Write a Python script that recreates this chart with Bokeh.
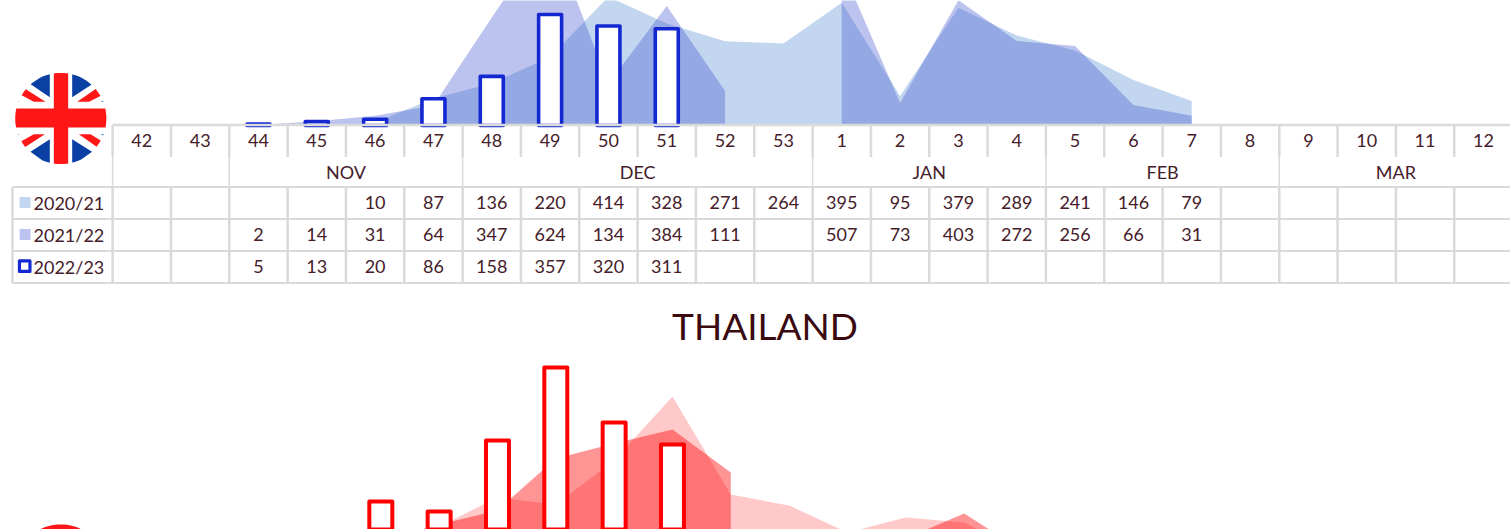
import numpy as np
from bokeh.plotting import figure
from bokeh.models import Range1d
from bokeh.core.properties import value
from bokeh.embed import file_html
from bokeh.resources import INLINE

# ---------- data ----------
weeks = [42,43,44,45,46,47,48,49,50,51,52,53,1,2,3,4,5,6,7,8,9,10,11,12]
months = ["NOV","DEC","JAN","FEB","MAR"]
month_spans = [(2,5),(6,11),(12,15),(16,19),(20,23)]
seasons = ["2020/21","2021/22","2022/23"]
uk_2020 = [None,None,None,None,10,87,136,220,414,328,271,264,395,95,379,289,241,146,79,None,None,None,None,None]
uk_2021 = [None,None,2,14,31,64,347,624,134,384,111,None,507,73,403,272,256,66,31,None,None,None,None,None]
uk_2022 = [None,None,5,13,20,86,158,357,320,311,None,None,None,None,None,None,None,None,None,None,None,None,None,None]
# Thailand: the value table is outside the picture, so these are estimates from the marks
th_2020 = [None,None,None,None,50,102,160,146,234,362,166,144,90,120,110,54,None,None,None,None,None,None,None,None]
th_2021 = [None,None,None,None,74,106,134,238,268,296,210,None,40,78,128,54,None,None,None,None,None,None,None,None]
th_2022 = [None,None,None,None,152,132,274,420,310,266,None,None,None,None,None,None,None,None,None,None,None,None,None,None]

# ---------- layout ----------
W, H = 1510, 529
SLOT, X0 = 58.33, 141.3
TH_DX = 5.7
UK_BASE, UK_PX = 125.0, 0.311
TH_BASE, TH_PX = 577.0, 0.5
FONT = value("Lato")
INK = "#45202a"
INK_TITLE = "#3a0a10"
GRID = "#dadada"
UK_C = ["#c2d6f0", "#4258d0", "#1428d2"]
TH_C = ["#ff0000", "#ff0000", "#ff0000"]

p = figure(width=W, height=H, output_backend="svg", toolbar_location=None,
           x_range=Range1d(-X0/SLOT, (W-X0)/SLOT), y_range=Range1d(H, 0),
           x_axis_type=None, y_axis_type=None, min_border=0, outline_line_color=None)
p.grid.visible = False
p.background_fill_color = "white"
p.extra_y_ranges = {
    "uk": Range1d((UK_BASE-H)/UK_PX, UK_BASE/UK_PX),
    "th": Range1d((TH_BASE-H)/TH_PX, TH_BASE/TH_PX),
}
p.extra_x_ranges = {"th": Range1d((-X0-TH_DX)/SLOT, (W-X0-TH_DX)/SLOT)}

def segments(vals):
    out, cur = [], []
    for i, v in enumerate(vals):
        if v is None:
            if cur: out.append(cur)
            cur = []
        else:
            cur.append((i, v))
    if cur: out.append(cur)
    return out

def area(vals, color, alpha, yname, xname="default"):
    for s in segments(vals):
        xs = [a for a, _ in s]; ys = [b for _, b in s]
        p.varea(x=xs, y1=[0]*len(xs), y2=ys, fill_color=color, fill_alpha=alpha,
                x_range_name=xname, y_range_name=yname)

def bars(vals, color, yname, xname="default", lw=3):
    s = [(i, v) for i, v in enumerate(vals) if v is not None]
    p.vbar(x=[a for a, _ in s], top=[b for _, b in s], bottom=0, width=0.394,
           fill_color="white", line_color=color, line_width=lw, line_join="round",
           x_range_name=xname, y_range_name=yname)

# ---------- charts ----------
area(uk_2020, UK_C[0], 1, "uk")
area(uk_2021, UK_C[1], 0.36, "uk")
bars(uk_2022, UK_C[2], "uk", lw=3.6)

area(th_2020, TH_C[0], 0.21, "th", "th")
area(th_2021, TH_C[1], 0.42, "th", "th")
bars(th_2022, TH_C[2], "th", "th", lw=4)

# ---------- table ----------
T_TOP, T_TICK, T_MONTH, T_R1, T_R2, T_R3 = 124.6, 156.5, 186.6, 218.6, 250.6, 282.4
T_LEFT = 12
lab_x = lambda px: (px - X0) / SLOT
n = len(weeks)
edges = [i - 0.5 for i in range(n + 1)]

p.segment(x0=[-0.5]*1, x1=[n], y0=[T_TOP], y1=[T_TOP], line_color=GRID, line_width=2.5)
p.segment(x0=edges[:-1], x1=edges[:-1], y0=[T_TOP]*n, y1=[T_TICK]*n, line_color=GRID, line_width=2.5)
me = [-0.5] + [a - 0.5 for a, _ in month_spans] + [month_spans[-1][1] + 0.5]
p.segment(x0=me, x1=me, y0=[T_TICK]*len(me), y1=[T_MONTH]*len(me), line_color=GRID, line_width=1.5)
rows = [T_MONTH, T_R1, T_R2, T_R3]
p.segment(x0=[lab_x(T_LEFT)]*4, x1=[n]*4, y0=rows, y1=rows, line_color=GRID, line_width=2)
vx = [lab_x(T_LEFT)] + edges[:-1]
p.segment(x0=vx, x1=vx, y0=[T_MONTH]*len(vx), y1=[T_R3]*len(vx), line_color=GRID, line_width=2.5)

def txt(x, y, t, size="18px", align="center", color=INK):
    p.text(x=x, y=y, text=t, text_font=FONT, text_font_size=size, text_color=color,
           text_align=align, text_baseline="middle")

txt(list(range(n)), [140]*n, [str(w) for w in weeks])
txt([(a+b)/2 for a, b in month_spans], [171]*len(months), months)
for y, vals in zip([202, 234, 266], [uk_2020, uk_2021, uk_2022]):
    s = [(i, v) for i, v in enumerate(vals) if v is not None]
    txt([a for a, _ in s], [y]*len(s), [str(b) for _, b in s])
txt([lab_x(33)]*3, [202, 234, 266], seasons, align="left")

# legend swatches
p.scatter(x=[lab_x(24.6)], y=[202], marker="square", size=11, fill_color=UK_C[0], line_color=None)
p.scatter(x=[lab_x(24.6)], y=[234], marker="square", size=11, fill_color="#bbc3ee", line_color=None)
p.scatter(x=[lab_x(24.2)], y=[265.7], marker="square", size=10.5, fill_color="white",
          line_color=UK_C[2], line_width=3.2, line_join="round")

txt([lab_x(764.5)], [325], ["THAILAND"], size="37px", color=INK_TITLE)

# ---------- flags ----------
F_CX, F_CY, F_R = 60.3, 118.0, 45.6
def circle_poly(cx, cy, r, k=96):
    t = np.linspace(0, 2*np.pi, k, endpoint=False)
    return list(zip(cx + r*np.cos(t), cy + r*np.sin(t)))

def clip(poly, clipper):
    # Sutherland-Hodgman against a convex polygon
    area2 = sum(clipper[i][0]*clipper[(i+1) % len(clipper)][1] - clipper[(i+1) % len(clipper)][0]*clipper[i][1]
                for i in range(len(clipper)))
    sgn = 1 if area2 > 0 else -1
    out = list(poly)
    for i in range(len(clipper)):
        a, b = clipper[i], clipper[(i+1) % len(clipper)]
        inside = lambda q: sgn*((b[0]-a[0])*(q[1]-a[1]) - (b[1]-a[1])*(q[0]-a[0])) >= 0
        res = []
        for j in range(len(out)):
            c, d = out[j], out[(j+1) % len(out)]
            ci, di = inside(c), inside(d)
            if ci: res.append(c)
            if ci != di:
                d1 = (b[0]-a[0])*(c[1]-a[1]) - (b[1]-a[1])*(c[0]-a[0])
                d2 = (b[0]-a[0])*(d[1]-a[1]) - (b[1]-a[1])*(d[0]-a[0])
                u = d1/(d1-d2)
                res.append((c[0]+u*(d[0]-c[0]), c[1]+u*(d[1]-c[1])))
        out = res
        if not out: break
    return out

def z(*pts):  # flag artwork is defined on a 100x100 box whose corner sits at (10, 68), in thirds of a px
    return [(x/3 + 10, y/3 + 68) for x, y in pts]

circ = circle_poly(F_CX, F_CY, F_R)
FLAG_BLUE = [z((60,47),(118,8),(118,86)), z((185,8),(245,47),(185,86)),
             z((60,250),(118,212),(118,292)), z((185,212),(245,250),(185,292)),
             z((10,100),(27,100),(10,90)), z((290,100),(271,100),(290,90)),
             z((10,197),(27,197),(10,207)), z((290,197),(271,197),(290,207))]
FLAG_RED = [z((30,78),(42,60),(105,100),(70,100)), z((258,60),(274,80),(236,100),(200,100)),
            z((30,220),(70,197),(103,197),(42,237)), z((205,197),(240,197),(274,218),(262,237)),
            z((130,0),(173,0),(173,300),(130,300)), z((0,120),(300,120),(300,177),(0,177))]

def draw(polys, color):
    cl = [clip(q, circ) for q in polys]
    cl = [q for q in cl if q]
    p.patches(xs=[[lab_x(a) for a, _ in q] for q in cl], ys=[[b for _, b in q] for q in cl],
              fill_color=color, line_color=None)

draw([circ], "white")
draw(FLAG_BLUE, "#0a3fa3")
draw(FLAG_RED, "#ff1717")
# Thailand flag: only its red top shows above the page edge
th_flag = circle_poly(F_CX, 569.5, F_R)
p.patch(x=[lab_x(a) for a, _ in th_flag], y=[b for _, b in th_flag], fill_color="#ff1717", line_color=None)

open("out.html", "w").write(file_html(p, INLINE))
